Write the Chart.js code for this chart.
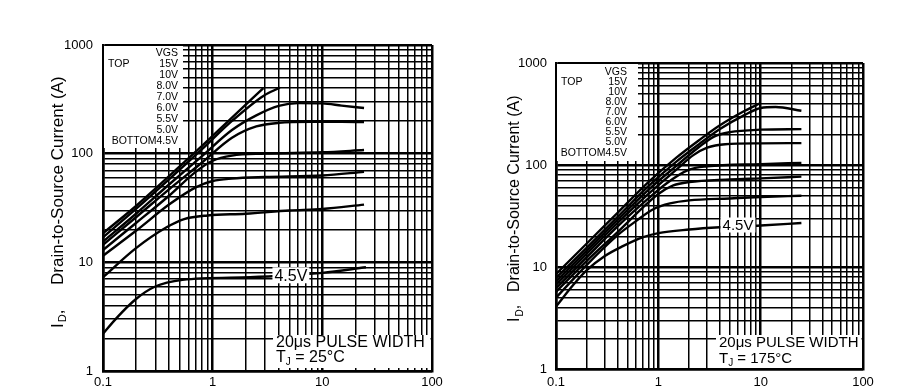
<!DOCTYPE html>
<html>
<head>
<meta charset="utf-8">
<script src="https://cdn.jsdelivr.net/npm/chart.js@4.4.1/dist/chart.umd.min.js"></script>
<style>
  html, body { margin: 0; padding: 0; background: #fff; }
  #wrap { position: relative; width: 909px; height: 392px; overflow: hidden; background: #fff; }
  canvas { position: absolute; top: 0; }
  #c25 { left: 0; }
  #c175 { left: 455px; }
</style>
</head>
<body>
<div id="wrap">
  <canvas id="c25" width="455" height="392"></canvas>
  <canvas id="c175" width="454" height="392"></canvas>
</div>
<script>
const FONT = '"Liberation Sans", Arial, sans-serif';

// gate voltages, top to bottom
const vgsSteps = ['15V', '10V', '8.0V', '7.0V', '6.0V', '5.5V', '5.0V', '4.5V'];

// axis ticks
const vdsTickValues = [0.1, 1, 10, 100];
const vdsTickLabels = ['0.1', '1', '10', '100'];
const idTickValues = [1, 10, 100, 1000];
const idTickLabels = ['1', '10', '100', '1000'];

// TJ = 25°C curves  [VDS (V), ID (A)]
const tj25_15V = [[0.1, 18.5], [0.2, 33], [0.4, 62], [0.8, 118], [1.5, 215], [2.9, 400]];
const tj25_10V = [[0.1, 17], [0.2, 31], [0.4, 58], [0.8, 110], [1.5, 200], [2.9, 340], [4.1, 405]];
const tj25_8V = [[0.1, 15.5], [0.2, 28], [0.4, 52], [0.8, 95], [1.5, 165], [2.5, 225], [4, 275], [6, 292], [10, 290], [15, 277], [24, 263]];
const tj25_7V = [[0.1, 14.5], [0.2, 26], [0.4, 47], [0.8, 83], [1.5, 140], [2.5, 178], [4, 192], [8, 196], [15, 196], [24, 195]];
const tj25_6V = [[0.1, 13], [0.2, 23], [0.4, 41], [0.7, 68], [1, 86], [1.5, 96], [3, 100], [10, 103], [24, 108]];
const tj25_55V = [[0.1, 11.5], [0.2, 19.5], [0.4, 34], [0.7, 49], [1, 56], [1.5, 59], [3, 61], [10, 63], [24, 68]];
const tj25_5V = [[0.1, 7.3], [0.2, 13.5], [0.38, 21], [0.55, 25], [0.9, 27], [2, 28], [5, 30], [10, 31], [24, 34]];
const tj25_45V = [[0.1, 2.2], [0.134, 3.1], [0.2, 4.6], [0.29, 5.9], [0.53, 6.9], [2.2, 7.3], [5, 7.6], [10, 8], [25, 9]];

// TJ = 175°C curves  [VDS (V), ID (A)]
const tj175_15V = [[0.1, 8.5], [0.2, 17], [0.4, 34], [0.8, 68], [1.5, 118], [2.5, 175], [4, 245], [7, 340], [10, 405]];
const tj175_10V = [[0.1, 7.8], [0.2, 15.5], [0.4, 31], [0.8, 62], [1.5, 108], [2.5, 160], [4, 225], [7, 310], [10, 362], [14, 370], [25, 340]];
const tj175_8V = [[0.1, 7.2], [0.2, 14.5], [0.4, 29], [0.8, 57], [1.5, 98], [2.5, 150], [3.5, 190], [5, 210], [10, 222], [25, 225]];
const tj175_7V = [[0.1, 6.7], [0.2, 13.5], [0.4, 27], [0.8, 52], [1.5, 90], [2.2, 125], [3, 148], [4.5, 160], [10, 163], [25, 164]];
const tj175_6V = [[0.1, 6.2], [0.2, 12.5], [0.4, 25], [0.8, 47], [1.2, 66], [2, 90], [3, 97], [10, 102], [25, 105]];
const tj175_55V = [[0.1, 5.7], [0.2, 11.5], [0.4, 22], [0.7, 38], [1, 52], [1.4, 63], [2, 68], [5, 72], [10, 74], [25, 77]];
const tj175_5V = [[0.1, 5], [0.2, 10.5], [0.4, 20.5], [0.6, 28], [0.9, 37], [1.3, 42], [2, 45], [5, 47], [10, 48.5], [25, 50]];
const tj175_45V = [[0.1, 4.1], [0.15, 6.8], [0.2, 9.3], [0.3, 12.8], [0.45, 16], [0.7, 19.5], [1, 21.5], [2, 23.3], [4, 24.5], [10, 25.5], [25, 27]];

const curves25 = [tj25_15V, tj25_10V, tj25_8V, tj25_7V, tj25_6V, tj25_55V, tj25_5V, tj25_45V];
const curves175 = [tj175_15V, tj175_10V, tj175_8V, tj175_7V, tj175_6V, tj175_55V, tj175_5V, tj175_45V];

// curve label anchors [VDS, ID]
const label25 = [5.17, 7.6];
const label175 = [6.0, 25.8];

const isDecade = v => v > 0 && Math.abs(Math.log10(v) - Math.round(Math.log10(v))) < 1e-6;

function logGrid(min, max) {
  const out = [];
  for (let d = min; d < max * 0.999; d *= 10) {
    for (let m = 1; m <= 9; m++) out.push(+(d * m).toPrecision(6));
  }
  out.push(max);
  return out;
}

function labelFor(values, labels, v) {
  const i = values.findIndex(t => Math.abs(t - v) / t < 1e-6);
  return i < 0 ? '' : labels[i];
}

function logAxis(values, labels, pad, fit) {
  const min = values[0], max = values[values.length - 1];
  return {
    type: 'logarithmic',
    min, max,
    afterBuildTicks: s => { s.ticks = logGrid(min, max).map(v => ({ value: v })); },
    afterFit: fit,
    ticks: {
      autoSkip: false,
      maxRotation: 0,
      padding: pad,
      color: '#000',
      font: { family: FONT, size: 13 },
      callback: v => labelFor(values, labels, v)
    },
    grid: {
      drawTicks: false,
      color: '#000',
      lineWidth: ctx => isDecade(ctx.tick && ctx.tick.value) ? 2.5 : 1.5
    },
    border: { color: '#000', width: 2.5 }
  };
}

// white boxes, legend text, curve label, pulse note and Y title
const notesPlugin = {
  id: 'notes',
  beforeDatasetsDraw(chart, args, o) {
    const { ctx, chartArea: a } = chart;
    ctx.save();
    ctx.fillStyle = '#fff';
    ctx.fillRect(a.left + 1, a.top + 1, o.boxW, o.boxH);
    ctx.fillStyle = '#000';
    ctx.font = `${o.legSize}px ${FONT}`;
    ctx.textBaseline = 'middle';
    ctx.textAlign = 'right';
    const xr = a.left + o.legRight;
    ctx.fillText('VGS', xr, a.top + o.legTop);
    let lastY = 0;
    vgsSteps.forEach((s, i) => {
      lastY = a.top + o.legTop + o.legStep * (i + 1) + (i === vgsSteps.length - 1 ? o.legLast : 0);
      ctx.fillText(s, xr, lastY);
    });
    ctx.fillText('BOTTOM', xr - ctx.measureText(vgsSteps[vgsSteps.length - 1]).width, lastY);
    ctx.textAlign = 'left';
    ctx.fillText('TOP', a.left + 5, a.top + o.legTop + o.legStep);
    ctx.restore();
  },
  afterDatasetsDraw(chart, args, o) {
    const { ctx, chartArea: a, scales } = chart;
    ctx.save();
    // 4.5V curve label
    const lx = scales.x.getPixelForValue(o.label[0]);
    const ly = scales.y.getPixelForValue(o.label[1]);
    ctx.font = `${o.labSize}px ${FONT}`;
    const lw = ctx.measureText('4.5V').width;
    ctx.fillStyle = '#fff';
    ctx.fillRect(lx - lw / 2 - 2, ly - o.labSize / 2, lw + 4, o.labSize);
    ctx.fillStyle = '#000';
    ctx.textAlign = 'center';
    ctx.textBaseline = 'middle';
    ctx.fillText('4.5V', lx, ly + 1);

    // pulse width note
    ctx.fillStyle = '#fff';
    ctx.fillRect(a.right - o.noteW, a.bottom - o.noteH, o.noteW - 1.5, o.noteH - o.noteLift);
    ctx.fillStyle = '#000';
    ctx.textAlign = 'left';
    ctx.font = `${o.noteSize}px ${FONT}`;
    const nx = a.right - o.noteW + 3;
    ctx.fillText('20\u03bcs PULSE WIDTH', nx, a.bottom - o.noteL1);
    const y2 = a.bottom - o.noteL2;
    ctx.fillText('T', nx, y2);
    let x2 = nx + ctx.measureText('T').width;
    ctx.font = `${Math.round(o.noteSize * 0.65)}px ${FONT}`;
    ctx.fillText('J', x2, y2 + o.noteSize * 0.25);
    x2 += ctx.measureText('J').width;
    ctx.font = `${o.noteSize}px ${FONT}`;
    ctx.fillText(' = ' + o.tj, x2, y2);

    // Y axis title, rotated
    ctx.translate(a.left - o.titleDx, a.top + o.titleBottom);
    ctx.rotate(-Math.PI / 2);
    ctx.textAlign = 'left';
    ctx.textBaseline = 'middle';
    ctx.font = `${o.titleSize}px ${FONT}`;
    let tx = 0;
    ctx.fillText('I', tx, 0);
    tx += ctx.measureText('I').width + 1;
    ctx.font = `${Math.round(o.titleSize * 0.65)}px ${FONT}`;
    ctx.fillText('D', tx, o.titleSize * 0.3);
    tx += ctx.measureText('D').width;
    ctx.font = `${o.titleSize}px ${FONT}`;
    ctx.fillText(',', tx, 0);
    ctx.fillText('Drain-to-Source Current (A)', o.titleGap, 0);
    ctx.restore();
  }
};

function makeChart(id, series, notes) {
  return new Chart(document.getElementById(id), {
    type: 'line',
    data: {
      datasets: series.map((pts, i) => ({
        label: vgsSteps[i],
        data: pts.map(([x, y]) => ({ x, y })),
        borderColor: '#000',
        borderWidth: 2.4,
        pointRadius: 0,
        cubicInterpolationMode: 'monotone',
        fill: false
      }))
    },
    options: {
      responsive: false,
      animation: false,
      devicePixelRatio: 1,
      layout: { padding: notes.padding },
      plugins: { legend: { display: false }, tooltip: { enabled: false }, notes },
      scales: {
        x: logAxis(vdsTickValues, vdsTickLabels, notes.xPad, s => { s.height = notes.xHeight; }),
        y: logAxis(idTickValues, idTickLabels, notes.yPad, s => { s.width = notes.yWidth; })
      }
    },
    plugins: [notesPlugin]
  });
}

makeChart('c25', curves25, {
  padding: { left: 0, top: 45, right: 23, bottom: 0 },
  xHeight: 21, yWidth: 103, xPad: 4, yPad: 10,
  boxW: 79, boxH: 102,
  legSize: 10.5, legRight: 75, legTop: 8, legStep: 11, legLast: 0,
  label: label25, labSize: 16,
  noteW: 159, noteH: 36, noteLift: 3, noteSize: 16, noteL1: 28, noteL2: 13, tj: '25°C',
  titleDx: 45, titleBottom: 283, titleSize: 17, titleGap: 43
});

makeChart('c175', curves175, {
  padding: { left: 0, top: 63, right: 46, bottom: 0 },
  xHeight: 23, yWidth: 101, xPad: 6, yPad: 9,
  boxW: 81, boxH: 97,
  legSize: 10.5, legRight: 71, legTop: 9, legStep: 10, legLast: 1,
  label: label175, labSize: 15,
  noteW: 147, noteH: 34, noteLift: 1, noteSize: 15, noteL1: 26, noteL2: 10, tj: '175°C',
  titleDx: 41, titleBottom: 259, titleSize: 16, titleGap: 30
});
</script>
</body>
</html>
